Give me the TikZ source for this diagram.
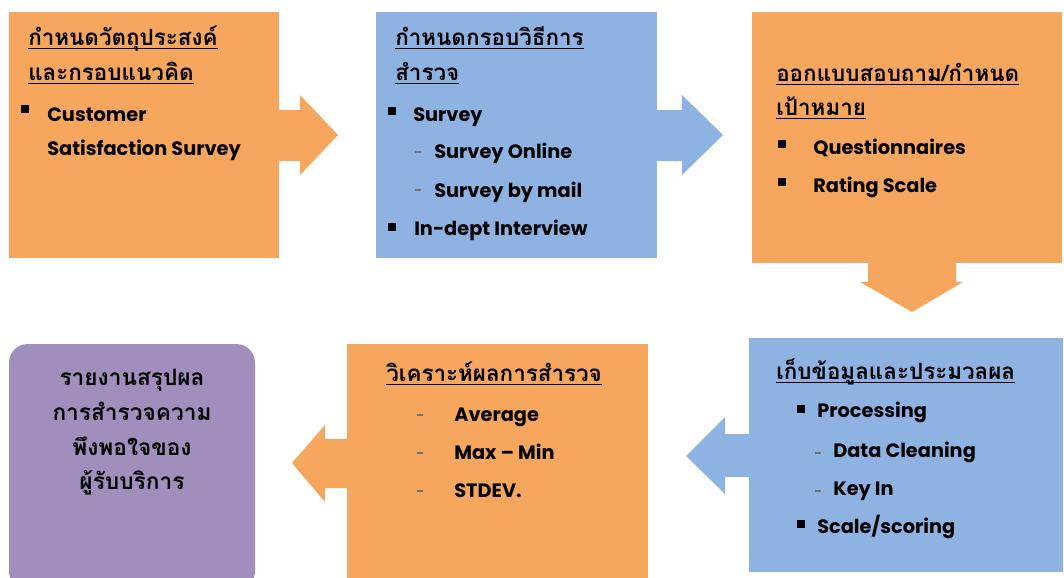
\documentclass[tikz,border=0pt]{standalone}
\usepackage{fontspec}
\setmainfont{Poppins}
\newfontfamily\thaifont[Script=Thai]{Loma}
\usetikzlibrary{fit}

\definecolor{boxorange}{HTML}{F7A65E}
\definecolor{boxblue}{HTML}{8EB3E2}
\definecolor{boxpurple}{HTML}{A18EBC}

% underline a heading line just below its baseline
\newcommand{\headul}[1]{\setbox0=\hbox{#1}\rlap{\rule[-3.2pt]{\wd0}{0.9pt}}\box0}

\tikzset{
  panel/.style={inner sep=0pt, draw=none},
  thhead/.style={anchor=base west, inner sep=0pt, font=\thaifont\bfseries\fontsize{16.8}{20}\selectfont},
  thbody/.style={anchor=base, inner sep=0pt, font=\thaifont\bfseries\fontsize{17}{20}\selectfont},
  entry/.style={anchor=base west, inner sep=0pt, font=\bfseries\fontsize{14.5}{18}\selectfont},
  bulletsq/.style={fill=black, minimum size=6pt, inner sep=0pt},
  dashmark/.style={fill=black!55, minimum width=4pt, minimum height=1.1pt, inner sep=0pt},
}

\begin{document}
\begin{tikzpicture}[x=0.75pt, y=-0.75pt]
\useasboundingbox (0,0) rectangle (1064,578);
\clip (0,0) rectangle (1064,578);

% panels
\node[panel, fill=boxorange, fit={(9,12)(279,258)}] (b1) {};
\node[panel, fill=boxblue, fit={(376,12)(657,258)}] (b2) {};
\node[panel, fill=boxorange, fit={(752,12)(1062,263)}] (b3) {};
\node[panel, fill=boxblue, fit={(749,338)(1063,572)}] (b6) {};
\node[panel, fill=boxorange, fit={(347,344)(648,590)}] (b5) {};
\node[panel, fill=boxpurple, rounded corners=14pt, fit={(9,344)(255,590)}] (b4) {};

% block arrows between the panels
\fill[boxorange] (278,110) -- (300,110) -- (300,95) -- (338,135) -- (300,175) -- (300,161) -- (278,161) -- cycle;
\fill[boxblue] (656,110) -- (682,110) -- (682,95) -- (723,135) -- (682,175) -- (682,161) -- (656,161) -- cycle;
\fill[boxorange] (868,262) -- (868,282) -- (860,282) -- (912,312) -- (963,282) -- (956,282) -- (956,262) -- cycle;
\fill[boxblue] (750,434) -- (725,434) -- (725,417) -- (686,456) -- (725,494) -- (725,477) -- (750,477) -- cycle;
\fill[boxorange] (348,439) -- (325,439) -- (325,425) -- (292,463) -- (325,502) -- (325,488) -- (348,488) -- cycle;

% panel 1
\node[thhead] (b1h1) at (28,45) {\headul{กำหนดวัตถุประสงค์}};
\node[thhead] (b1h2) at (28,80) {\headul{และกรอบแนวคิด}};
\node[bulletsq] (b1m1) at (25,109) {};
\node[entry] (b1t1) at (47,121) {Customer};
\node[entry] (b1t2) at (47,155) {Satisfaction Survey};

% panel 2
\node[thhead] (b2h1) at (395,45) {\headul{กำหนดกรอบวิธีการ}};
\node[thhead] (b2h2) at (395,80) {\headul{สำรวจ}};
\node[bulletsq] (b2m1) at (392,111) {};
\node[entry] (b2t1) at (413,121) {Survey};
\node[dashmark] (b2d1) at (418,152) {};
\node[entry] (b2t2) at (434,158) {Survey Online};
\node[dashmark] (b2d2) at (418,190) {};
\node[entry] (b2t3) at (434,197) {Survey by mail};
\node[bulletsq] (b2m2) at (392,227) {};
\node[entry] (b2t4) at (414,235) {In-dept Interview};

% panel 3
\node[thhead] (b3h1) at (776,81) {\headul{ออกแบบสอบถาม/กำหนด}};
\node[thhead] (b3h2) at (776,115) {\headul{เป้าหมาย}};
\node[bulletsq] (b3m1) at (782,144) {};
\node[entry] (b3t1) at (813,154) {Questionnaires};
\node[bulletsq] (b3m2) at (782,182) {};
\node[entry] (b3t2) at (813,192) {Rating Scale};

% panel 4
\node[thbody] (b4t1) at (132,385) {รายงานสรุปผล};
\node[thbody] (b4t2) at (132,420) {การสำรวจความ};
\node[thbody] (b4t3) at (132,455) {พึงพอใจของ};
\node[thbody] (b4t4) at (132,489) {ผู้รับบริการ};

% panel 5
\node[thhead] (b5h1) at (386,381) {\headul{วิเคราะห์ผลการสำรวจ}};
\node[dashmark] (b5d1) at (420,415) {};
\node[entry] (b5t1) at (454,421) {Average};
\node[dashmark] (b5d2) at (420,453) {};
\node[entry] (b5t2) at (454,459) {Max – Min};
\node[dashmark] (b5d3) at (420,491) {};
\node[entry] (b5t3) at (454,497) {STDEV.};

% panel 6
\node[thhead] (b6h1) at (776,379) {\headul{เก็บข้อมูลและประมวลผล}};
\node[bulletsq] (b6m1) at (801,409) {};
\node[entry] (b6t1) at (817,417) {Processing};
\node[dashmark] (b6d1) at (818,453) {};
\node[entry] (b6t2) at (833,457) {Data Cleaning};
\node[dashmark] (b6d2) at (818,491) {};
\node[entry] (b6t3) at (833,495) {Key In};
\node[bulletsq] (b6m2) at (801,524) {};
\node[entry] (b6t4) at (817,533) {Scale/scoring};
\end{tikzpicture}
\end{document}
